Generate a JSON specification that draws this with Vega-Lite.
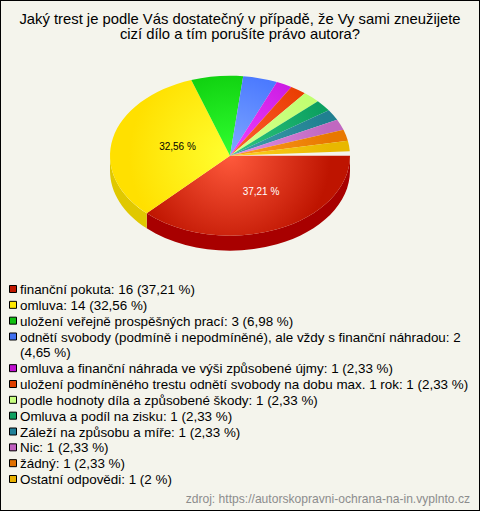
{
"$schema":"https://vega.github.io/schema/vega-lite/v6.json",
"width":480,"height":511,"padding":0,"autosize":{"type":"none"},
"background":"#F4F4EC",
"config":{"view":{"stroke":"#000000","strokeWidth":2},"font":"Liberation Sans"},
"title":{"text":["Jaký trest je podle Vás dostatečný v případě, že Vy sami zneužijete","cizí dílo a tím porušíte právo autora?"],"anchor":"middle","frame":"group","baseline":"alphabetic","offset":-54,"fontSize":14.8,"fontWeight":"normal","lineHeight":15,"color":"#000000","font":"Liberation Sans"},
"datasets":{"rows":[
{"rank":1,"category":"finanční pokuta","count":16,"pct":"37,21 %","label":"finanční pokuta: 16 (37,21 %)"},
{"rank":2,"category":"omluva","count":14,"pct":"32,56 %","label":"omluva: 14 (32,56 %)"},
{"rank":3,"category":"uložení veřejně prospěšných prací","count":3,"pct":"6,98 %","label":"uložení veřejně prospěšných prací: 3 (6,98 %)"},
{"rank":4,"category":"odnětí svobody","count":2,"pct":"4,65 %","label":"odnětí svobody (podmíně i nepodmíněné), ale vždy s finanční náhradou: 2\n(4,65 %)"},
{"rank":5,"category":"omluva a finanční náhrada","count":1,"pct":"2,33 %","label":"omluva a finanční náhrada ve výši způsobené újmy: 1 (2,33 %)"},
{"rank":6,"category":"uložení podmíněného trestu","count":1,"pct":"2,33 %","label":"uložení podmíněného trestu odnětí svobody na dobu max. 1 rok: 1 (2,33 %)"},
{"rank":7,"category":"podle hodnoty díla","count":1,"pct":"2,33 %","label":"podle hodnoty díla a způsobené škody: 1 (2,33 %)"},
{"rank":8,"category":"Omluva a podíl na zisku","count":1,"pct":"2,33 %","label":"Omluva a podíl na zisku: 1 (2,33 %)"},
{"rank":9,"category":"Záleží na způsobu a míře","count":1,"pct":"2,33 %","label":"Záleží na způsobu a míře: 1 (2,33 %)"},
{"rank":10,"category":"Nic","count":1,"pct":"2,33 %","label":"Nic: 1 (2,33 %)"},
{"rank":11,"category":"žádný","count":1,"pct":"2,33 %","label":"žádný: 1 (2,33 %)"},
{"rank":12,"category":"Ostatní odpovědi","count":1,"pct":"2 %","label":"Ostatní odpovědi: 1 (2 %)"}
]},
"data":{"name":"rows"},
"layer":[
{"transform":[{"filter":"datum.rank<=2"}],
 "mark":{"type":"point","filled":true,"opacity":1,"strokeWidth":0},
 "encoding":{
  "x":{"datum":230,"type":"quantitative","scale":{"domain":[0,480],"range":[0,480]},"axis":null},
  "y":{"datum":155.7,"type":"quantitative","scale":{"domain":[0,511],"range":[0,511]},"axis":null},
  "size":{"value":4},
  "shape":{"field":"rank","type":"nominal","legend":null,"scale":{"domain":[1,2],"range":[
   "M120 0L120 15A120 80 0 0 1 -83.3 72.6L-83.3 57.6A120 80 0 0 0 120 0Z",
   "M-83.3 57.6L-83.3 72.6A120 80 0 0 1 -120 15L-120 0A120 80 0 0 0 -83.3 57.6Z"]}},
  "fill":{"field":"rank","type":"nominal","legend":null,"scale":{"domain":[1,2],"range":["#A80000","#E0C800"]}}
 }},
{"mark":{"type":"point","filled":true,"opacity":1,"strokeWidth":0},
 "encoding":{
  "x":{"datum":230,"type":"quantitative","scale":{"domain":[0,480],"range":[0,480]},"axis":null},
  "y":{"datum":155.7,"type":"quantitative","scale":{"domain":[0,511],"range":[0,511]},"axis":null},
  "size":{"value":4},
  "shape":{"field":"rank","type":"nominal","legend":null,"scale":{"domain":[1,2,3,4,5,6,7,8,9,10,11,12],"range":[
   "M-120 -80L-120 -80ZM120 80L120 80ZM0 0L120 0A120 80 0 0 1 -83.3 57.6Z",
   "M-120 -80L-120 -80ZM120 80L120 80ZM0 0L-83.3 57.6A120 80 0 0 1 -38.7 -75.7Z",
   "M-120 -80L-120 -80ZM120 80L120 80ZM0 0L-38.7 -75.7A120 80 0 0 1 13.2 -79.5Z",
   "M-120 -80L-120 -80ZM120 80L120 80ZM0 0L13.2 -79.5A120 80 0 0 1 46.9 -73.6Z",
   "M-120 -80L-120 -80ZM120 80L120 80ZM0 0L46.9 -73.6A120 80 0 0 1 61.4 -68.7Z",
   "M-120 -80L-120 -80ZM120 80L120 80ZM0 0L61.4 -68.7A120 80 0 0 1 74.9 -62.5Z",
   "M-120 -80L-120 -80ZM120 80L120 80ZM0 0L74.9 -62.5A120 80 0 0 1 87.9 -54.5Z",
   "M-120 -80L-120 -80ZM120 80L120 80ZM0 0L87.9 -54.5A120 80 0 0 1 98.8 -45.4Z",
   "M-120 -80L-120 -80ZM120 80L120 80ZM0 0L98.8 -45.4A120 80 0 0 1 107.2 -35.9Z",
   "M-120 -80L-120 -80ZM120 80L120 80ZM0 0L107.2 -35.9A120 80 0 0 1 113.5 -25.9Z",
   "M-120 -80L-120 -80ZM120 80L120 80ZM0 0L113.5 -25.9A120 80 0 0 1 117.9 -15Z",
   "M-120 -80L-120 -80ZM120 80L120 80ZM0 0L117.9 -15A120 80 0 0 1 119.8 -4.5Z"]}},
  "fill":{"condition":[
   {"test":"datum.rank===1","value":{"gradient":"radial","x1":0.5,"y1":0.5,"x2":0.5,"y2":0.5,"r1":0,"r2":0.42,"stops":[{"offset":0,"color":"#FF5A3C"},{"offset":1,"color":"#BE1400"}]}},
   {"test":"datum.rank===2","value":{"gradient":"radial","x1":0.5,"y1":0.5,"x2":0.5,"y2":0.5,"r1":0,"r2":0.42,"stops":[{"offset":0,"color":"#FFFF30"},{"offset":1,"color":"#FFE000"}]}},
   {"test":"datum.rank===3","value":{"gradient":"radial","x1":0.5,"y1":0.5,"x2":0.5,"y2":0.5,"r1":0,"r2":0.42,"stops":[{"offset":0,"color":"#30FF30"},{"offset":1,"color":"#0AC80A"}]}},
   {"test":"datum.rank===4","value":{"gradient":"radial","x1":0.5,"y1":0.5,"x2":0.5,"y2":0.5,"r1":0,"r2":0.42,"stops":[{"offset":0,"color":"#80A8FF"},{"offset":1,"color":"#4070FF"}]}},
   {"test":"datum.rank===5","value":{"gradient":"radial","x1":0.5,"y1":0.5,"x2":0.5,"y2":0.5,"r1":0,"r2":0.42,"stops":[{"offset":0,"color":"#F040FF"},{"offset":1,"color":"#C818E0"}]}},
   {"test":"datum.rank===6","value":{"gradient":"radial","x1":0.5,"y1":0.5,"x2":0.5,"y2":0.5,"r1":0,"r2":0.42,"stops":[{"offset":0,"color":"#FF6030"},{"offset":1,"color":"#E83C00"}]}},
   {"test":"datum.rank===7","value":{"gradient":"radial","x1":0.5,"y1":0.5,"x2":0.5,"y2":0.5,"r1":0,"r2":0.42,"stops":[{"offset":0,"color":"#D8FF90"},{"offset":1,"color":"#C0FF70"}]}},
   {"test":"datum.rank===8","value":{"gradient":"radial","x1":0.5,"y1":0.5,"x2":0.5,"y2":0.5,"r1":0,"r2":0.42,"stops":[{"offset":0,"color":"#30C880"},{"offset":1,"color":"#0CA060"}]}},
   {"test":"datum.rank===9","value":{"gradient":"radial","x1":0.5,"y1":0.5,"x2":0.5,"y2":0.5,"r1":0,"r2":0.42,"stops":[{"offset":0,"color":"#40A0B0"},{"offset":1,"color":"#208090"}]}},
   {"test":"datum.rank===10","value":{"gradient":"radial","x1":0.5,"y1":0.5,"x2":0.5,"y2":0.5,"r1":0,"r2":0.42,"stops":[{"offset":0,"color":"#E090E8"},{"offset":1,"color":"#C068C0"}]}},
   {"test":"datum.rank===11","value":{"gradient":"radial","x1":0.5,"y1":0.5,"x2":0.5,"y2":0.5,"r1":0,"r2":0.42,"stops":[{"offset":0,"color":"#FFA020"},{"offset":1,"color":"#E87800"}]}}
  ],"value":{"gradient":"radial","x1":0.5,"y1":0.5,"x2":0.5,"y2":0.5,"r1":0,"r2":0.42,"stops":[{"offset":0,"color":"#FFD020"},{"offset":1,"color":"#E8B800"}]}}
 }},
{"transform":[{"filter":"datum.rank<=2"}],
 "mark":{"type":"text","fontSize":10,"font":"Liberation Sans","align":"center","baseline":"middle"},
 "encoding":{
  "x":{"field":"rank","type":"nominal","axis":null,"scale":{"type":"point","padding":0,"domain":[1,2],"range":[261,177.5]}},
  "y":{"field":"rank","type":"nominal","axis":null,"scale":{"type":"point","padding":0,"domain":[1,2],"range":[192,147]}},
  "text":{"field":"pct"},
  "color":{"field":"rank","type":"nominal","legend":null,"scale":{"domain":[1,2],"range":["#FFFFFF","#000000"]}}
 }},
{"mark":{"type":"point","shape":"square","filled":true,"opacity":1,"stroke":"#000000","strokeWidth":1,"size":49},
 "encoding":{
  "x":{"datum":13,"type":"quantitative","scale":{"domain":[0,480],"range":[0,480]},"axis":null},
  "y":{"field":"rank","type":"nominal","axis":null,"scale":{"type":"point","padding":0,"domain":[1,2,3,4,4.5,5,6,7,8,9,10,11,12],"range":[289,479]}},
  "fill":{"field":"rank","type":"nominal","legend":null,"scale":{"domain":[1,2,3,4,5,6,7,8,9,10,11,12],"range":["#C01800","#FFE800","#10C010","#4070F0","#C010D0","#E04000","#C8FF80","#10A060","#208098","#C060C0","#E07000","#E8B000"]}}
 }},
{"mark":{"type":"text","fontSize":13.4,"font":"Liberation Sans","align":"left","baseline":"top","dy":-6,"lineBreak":"\n","lineHeight":15,"color":"#000000"},
 "encoding":{
  "x":{"datum":20,"type":"quantitative","scale":{"domain":[0,480],"range":[0,480]},"axis":null},
  "y":{"field":"rank","type":"nominal","axis":null,"scale":{"type":"point","padding":0,"domain":[1,2,3,4,4.5,5,6,7,8,9,10,11,12],"range":[289,479]}},
  "text":{"field":"label"}
 }},
{"data":{"values":[{"source":"zdroj: https://autorskopravni-ochrana-na-in.vyplnto.cz"}]},
 "mark":{"type":"text","fontSize":12.1,"font":"Liberation Sans","align":"right","baseline":"alphabetic","color":"#8C8C8C"},
 "encoding":{
  "x":{"datum":470,"type":"quantitative","scale":{"domain":[0,480],"range":[0,480]},"axis":null},
  "y":{"datum":503,"type":"quantitative","scale":{"domain":[0,511],"range":[0,511]},"axis":null},
  "text":{"field":"source"}
 }}
],
"resolve":{"scale":{"x":"independent","y":"independent","shape":"independent","fill":"independent","color":"independent"}}
}
